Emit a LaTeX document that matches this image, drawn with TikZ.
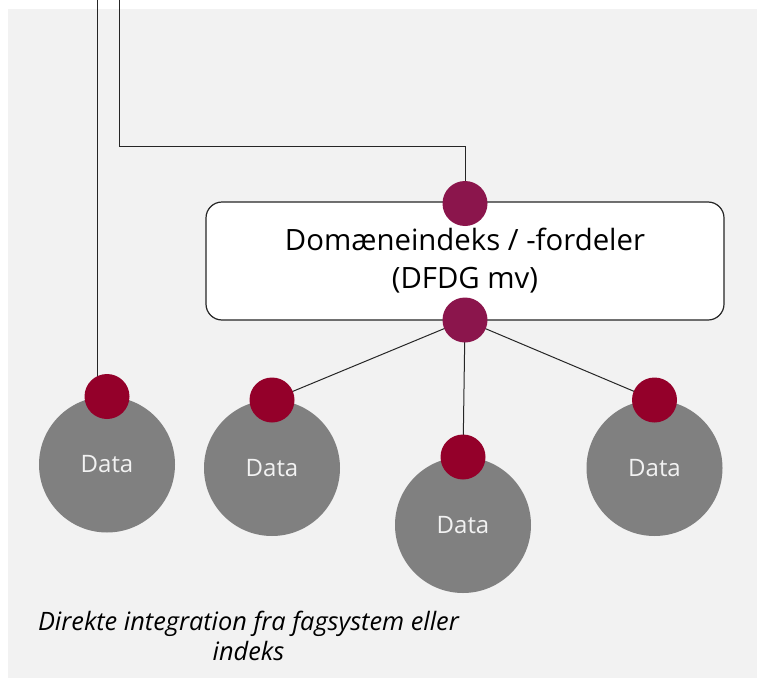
\documentclass[tikz,border=0pt]{standalone}
\usepackage{fontspec}
\setmainfont{Open Sans}
\usetikzlibrary{backgrounds}
\definecolor{bggray}{RGB}{242,242,242}
\definecolor{plum}{RGB}{139,21,76}
\definecolor{crimson}{RGB}{148,0,42}
\definecolor{datagray}{RGB}{128,128,128}
\definecolor{datatext}{RGB}{242,242,242}
\tikzset{
  datacircle/.style={circle, fill=datagray, draw=none, minimum size=102pt, inner sep=0pt,
    text=datatext, font=\fontsize{18}{22}\selectfont},
  reddot/.style={circle, fill=crimson, draw=none, minimum size=33.75pt, inner sep=0pt},
  plumdot/.style={circle, fill=plum, draw=none, minimum size=33.75pt, inner sep=0pt},
  indexbox/.style={rectangle, rounded corners=12pt, draw=black!85, line width=0.9pt, fill=white,
    minimum width=388.5pt, minimum height=88.5pt, align=center,
    font=\fontsize{22}{28.5}\selectfont},
  conn/.style={draw=black!85, line width=0.75pt},
  caption/.style={align=center, font=\itshape\fontsize{19}{22.5}\selectfont}
}
\begin{document}
\begin{tikzpicture}[x=0.75pt, y=-0.75pt]
\useasboundingbox (0,0) rectangle (757,678);
% box and dots
\node[indexbox] (box) at (465,261) {Domæneindeks / -fordeler\\(DFDG mv)};
\node[plumdot] (tdot) at (465,203.5) {};
\node[plumdot] (bdot) at (465,320) {};
% data circles
\node[datacircle] (d1) at (107,464.5) {Data};
\node[datacircle] (d2) at (272,468) {Data};
\node[datacircle] (d3) at (463,525) {Data};
\node[datacircle] (d4) at (654.5,468) {Data};
\node[reddot] (r1) at (107,396.5) {};
\node[reddot] (r2) at (272,400) {};
\node[reddot] (r3) at (463,457) {};
\node[reddot] (r4) at (654.5,400) {};
% caption
\node[caption] (cap) at (248.5,636) {Direkte integration fra fagsystem eller\\indeks};
% coordinates
\coordinate (inA) at (97,0);
\coordinate (endA) at (97,396.5);
\coordinate (inB) at (119,0);
\coordinate (bendB) at (119,146);
\coordinate (bendC) at (465,146);
\begin{scope}[on background layer]
  \fill[bggray] (8,9) rectangle (757,678);
  \draw[conn] (inA) -- (endA);
  \draw[conn] (inB) -- (bendB) -- (bendC) -- (tdot.center);
  \draw[conn] (bdot.center) -- (r2.center);
  \draw[conn] (bdot.center) -- (r3.center);
  \draw[conn] (bdot.center) -- (r4.center);
\end{scope}
\end{tikzpicture}
\end{document}
